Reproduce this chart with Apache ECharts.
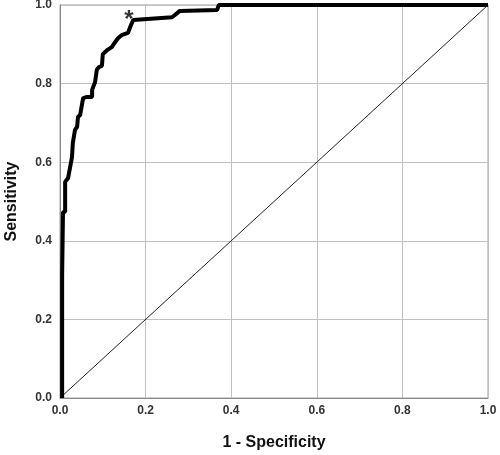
<!DOCTYPE html>
<html>
<head>
<meta charset="utf-8">
<script src="https://cdn.jsdelivr.net/npm/echarts@6/dist/echarts.min.js"></script>
<style>html,body{margin:0;padding:0;background:#fff}#c{width:500px;height:455px}</style>
</head>
<body>
<div id="c"></div>
<script>
// ROC curve: 1 - Specificity (FPR) and Sensitivity (TPR)
var fprValues = [0.005,0.005,0.007,0.007,0.012,0.012,0.019,0.028,0.030,0.035,0.040,0.042,0.047,0.054,0.063,0.075,0.075,0.082,0.086,0.091,0.098,0.100,0.110,0.121,0.129,0.136,0.145,0.159,0.164,0.171,0.175,0.262,0.280,0.367,0.371,1.0];
var tprValues = [0.0,0.313,0.313,0.473,0.473,0.550,0.560,0.613,0.649,0.682,0.690,0.715,0.720,0.763,0.766,0.766,0.784,0.804,0.835,0.842,0.845,0.875,0.885,0.893,0.906,0.916,0.924,0.929,0.944,0.962,0.967,0.969,0.985,0.987,1.0,1.0];
var refLineX = [0, 1];
var refLineY = [0, 1];
var cutoffPoint = [0.161, 0.962];
var cutoffMark = '*';
var tickValues = [0, 0.2, 0.4, 0.6, 0.8, 1.0];
var xTitle = '1 - Specificity';
var yTitle = 'Sensitivity';

var rocData = fprValues.map(function (x, i) { return [x, tprValues[i]]; });
var refData = refLineX.map(function (x, i) { return [x, refLineY[i]]; });

var chart = echarts.init(document.getElementById('c'));
var labelStyle = { color: '#333', fontSize: 12, fontWeight: 'bold', fontFamily: 'Liberation Sans, Arial, sans-serif',
  formatter: function (v) { return v.toFixed(1); } };
chart.setOption({
  animation: false,
  grid: { left: 60, right: 12, top: 5, bottom: 57, containLabel: false, outerBoundsMode: 'none',
    show: true, borderColor: '#a0a0a0', borderWidth: 1 },
  xAxis: {
    type: 'value', min: 0, max: 1, interval: 0.2,
    name: xTitle, nameLocation: 'middle', nameGap: 37,
    nameTextStyle: { fontSize: 16, fontWeight: 'bold', color: '#111', fontFamily: 'Liberation Sans, Arial, sans-serif' },
    axisLine: { show: true, lineStyle: { color: '#888' } },
    axisTick: { show: false },
    axisLabel: Object.assign({ margin: 7 }, labelStyle),
    splitLine: { show: true, lineStyle: { color: '#c0c0c0', width: 1 } }
  },
  yAxis: {
    type: 'value', min: 0, max: 1, interval: 0.2,
    name: yTitle, nameLocation: 'middle', nameGap: 40,
    nameTextStyle: { fontSize: 16, fontWeight: 'bold', color: '#111', fontFamily: 'Liberation Sans, Arial, sans-serif' },
    axisLine: { show: true, lineStyle: { color: '#888' } },
    axisTick: { show: false },
    axisLabel: Object.assign({ margin: 8 }, labelStyle),
    splitLine: { show: true, lineStyle: { color: '#c0c0c0', width: 1 } }
  },
  series: [
    { type: 'line', data: refData, symbol: 'none', lineStyle: { color: '#222', width: 1 }, z: 3 },
    { type: 'line', data: rocData, symbol: 'none', lineStyle: { color: '#000', width: 4 }, z: 4 },
    { type: 'scatter', data: [cutoffPoint], symbolSize: 1, itemStyle: { color: 'rgba(0,0,0,0)' },
      label: { show: true, position: 'inside', formatter: cutoffMark, fontSize: 24, fontWeight: 'bold', color: '#000',
        fontFamily: 'Liberation Sans, Arial, sans-serif' }, z: 5 }
  ]
});
</script>
</body>
</html>
